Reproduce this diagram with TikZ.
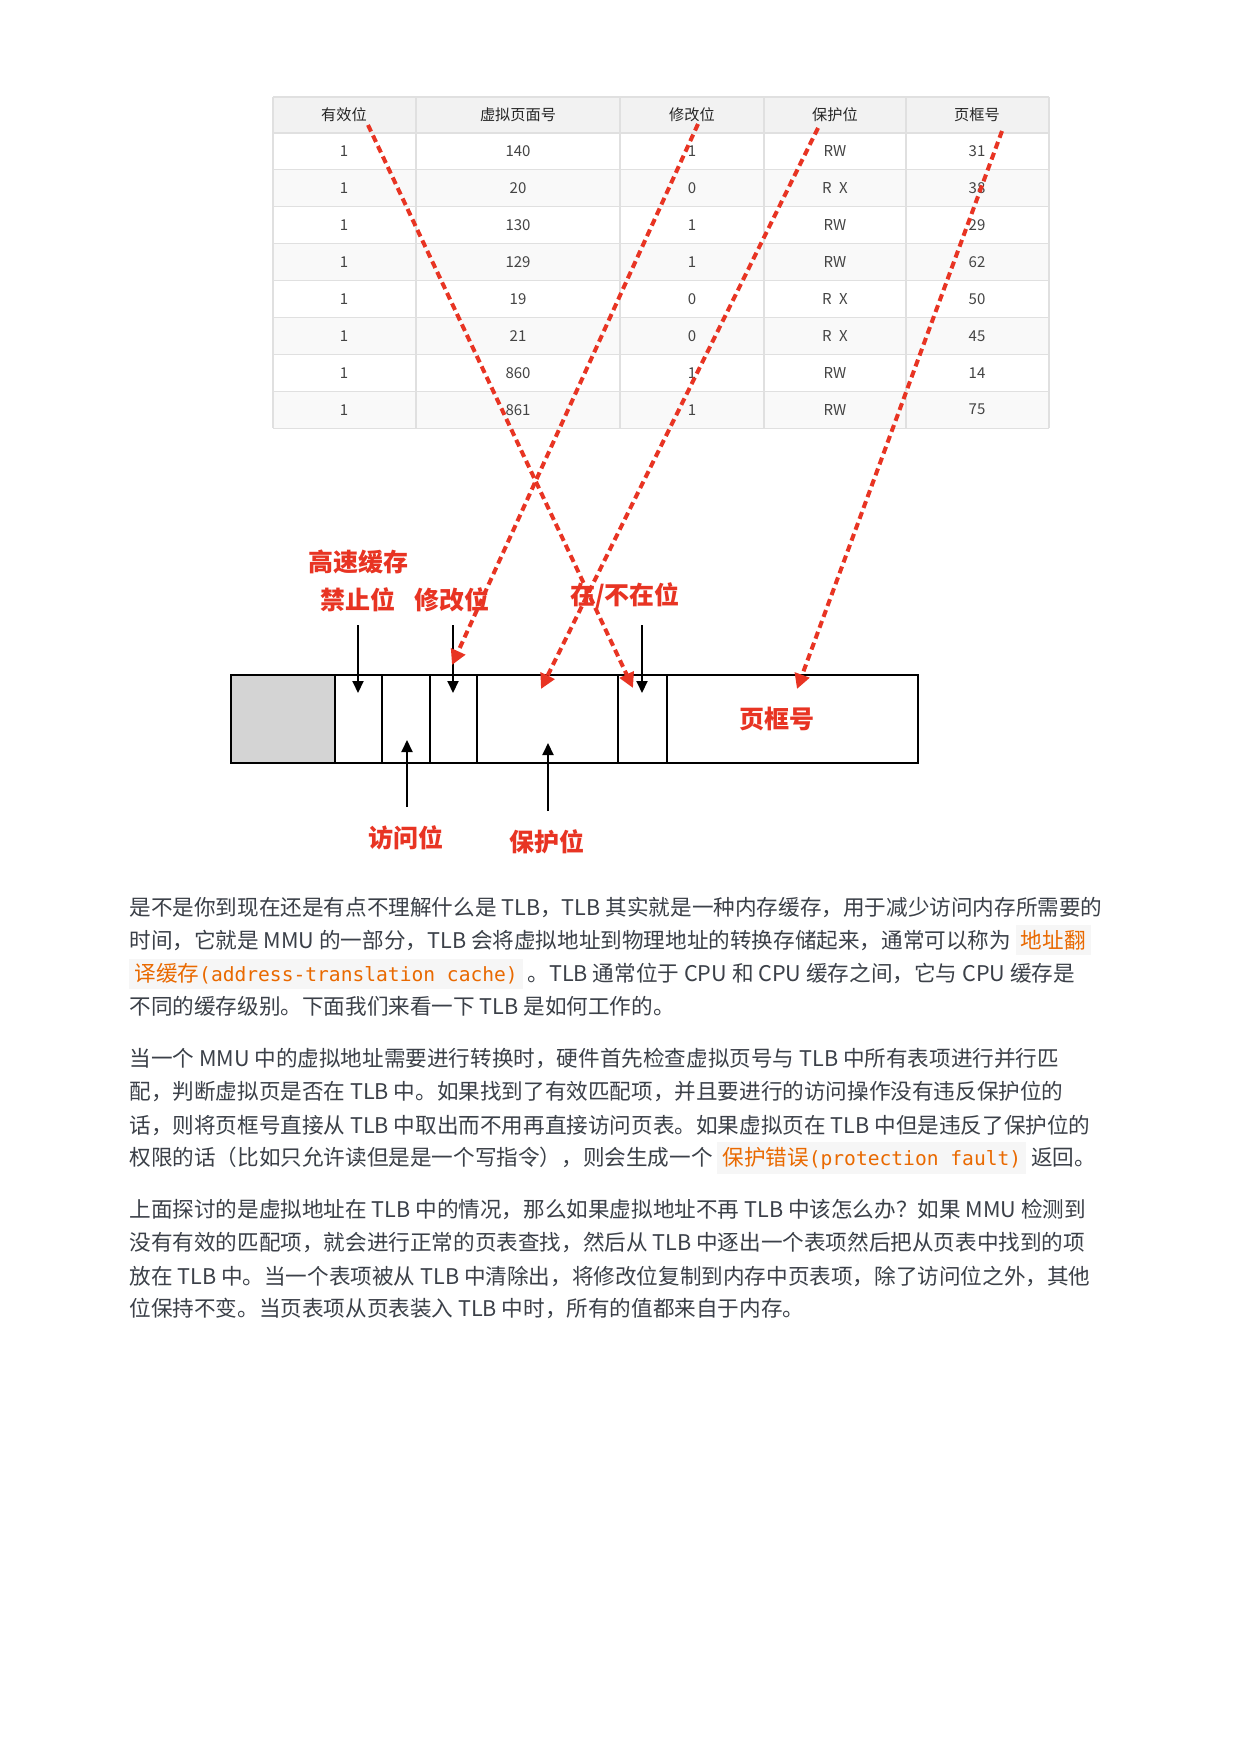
\documentclass[tikz,border=0pt]{standalone}
\usepackage{fontspec}
\usetikzlibrary{arrows.meta}
\newfontfamily\cjk{Noto Sans CJK SC}
\newfontfamily\codefont{DejaVu Sans Mono}

\definecolor{markred}{RGB}{232,52,35}
\definecolor{tabtext}{HTML}{444444}
\definecolor{tabgrid}{HTML}{E0E0E0}
\definecolor{tabhead}{HTML}{F2F2F2}
\definecolor{tabalt}{HTML}{F9F9F9}
\definecolor{bodytext}{HTML}{3B4048}
\definecolor{codeorange}{HTML}{E96900}
\definecolor{codebg}{HTML}{F6F6F6}
\definecolor{bitgray}{HTML}{D4D4D4}

% inline code: cjk part, mono part
\newcommand{\codebox}[2]{{\setlength{\fboxsep}{2.5pt}\colorbox{codebg}{\textcolor{codeorange}{#1{\codefont\fontsize{9.8}{12}\selectfont #2}}}}}

\tikzset{
  tabcell/.style={font=\cjk\fontsize{7.5}{9}\selectfont, text=tabtext},
  tabhd/.style={font=\cjk\fontsize{7.6}{9}\selectfont, text=black!85},
  redlbl/.style={font=\cjk\bfseries\fontsize{12.5}{15}\selectfont, text=markred},
  bodyline/.style={anchor=west, inner sep=0pt, font=\cjk\fontsize{10.8}{13}\selectfont, text=bodytext},
  redarrow/.style={markred, line width=2pt, dash pattern=on 3.6pt off 2.2pt, -{Triangle[length=7.5pt,width=7.5pt]}},
  blkarrow/.style={black, line width=1pt, -{Triangle[length=6pt,width=5.5pt]}},
}

\begin{document}
\begin{tikzpicture}[x=0.5pt,y=-0.5pt]
  \fill[white] (0,0) rectangle (1240,1754);
  \useasboundingbox (0,0) rectangle (1240,1754);

  % table of TLB entries
  \fill[tabhead] (273,97) rectangle (1049,133);
  \foreach \r in {2,4,6,8}
    \fill[tabalt] (273,{133+(\r-1)*36.9}) rectangle (1049,{133+\r*36.9});
  \foreach \x in {273,416,620,764,906,1049}
    \draw[tabgrid, line width=0.6pt] (\x,97) -- (\x,428);
  \foreach \r in {0,...,8}
    \draw[tabgrid, line width=0.6pt] (273,{133+\r*36.9}) -- (1049,{133+\r*36.9});
  \draw[tabgrid, line width=0.6pt] (273,97) -- (1049,97);

  \node[tabhd] (hvalid) at (344,115) {有效位};
  \node[tabhd] (hpage) at (518,115) {虚拟页面号};
  \node[tabhd] (hmod) at (692,115) {修改位};
  \node[tabhd] (hprot) at (835,115) {保护位};
  \node[tabhd] (hframe) at (977,115) {页框号};

  \foreach \v/\pg/\m/\pr/\fr [count=\i] in {1/140/1/RW/31, 1/20/0/R\enspace X/38,
      1/130/1/RW/29, 1/129/1/RW/62, 1/19/0/R\enspace X/50, 1/21/0/R\enspace X/45,
      1/860/1/RW/14, 1/861/1/RW/75}{
    \pgfmathsetmacro\yy{133+(\i-0.5)*36.9}
    \node[tabcell] (valid\i) at (344,\yy) {\v};
    \node[tabcell] (page\i) at (518,\yy) {\pg};
    \node[tabcell] (mod\i) at (692,\yy) {\m};
    \node[tabcell] (prot\i) at (835,\yy) {\pr};
    \node[tabcell] (frame\i) at (977,\yy) {\fr};
  }

  % page table entry bits
  \fill[bitgray] (231,675) rectangle (335,763);
  \draw[line width=0.8pt] (231,675) rectangle (918,763);
  \foreach \x in {335,382,430,477,618,667}
    \draw[line width=0.8pt] (\x,675) -- (\x,763);

  \node[redlbl] (lcache) at (358,562) {高速缓存};
  \node[redlbl] (lcd) at (358,600) {禁止位};
  \node[redlbl] (lmod) at (452,600) {修改位};
  \node[redlbl] (lpres) at (625,596) {在/不在位};
  \node[redlbl] (lframe) at (777,719) {页框号};
  \node[redlbl] (lref) at (406,838) {访问位};
  \node[redlbl] (lprot) at (547,842) {保护位};

  % black pointers
  \coordinate (cdtop) at (358,625);  \coordinate (cdtip) at (358,693);
  \coordinate (modtop) at (453,625); \coordinate (modtip) at (453,693);
  \coordinate (prtop) at (642,625);  \coordinate (prtip) at (642,693);
  \coordinate (refbot) at (407,807); \coordinate (reftip) at (407,740);
  \coordinate (protbot) at (548,811); \coordinate (prottip) at (548,743);
  \draw[blkarrow] (cdtop) -- (cdtip);
  \draw[blkarrow] (modtop) -- (modtip);
  \draw[blkarrow] (prtop) -- (prtip);
  \draw[blkarrow] (refbot) -- (reftip);
  \draw[blkarrow] (protbot) -- (prottip);

  % red dashed mapping from table columns
  \coordinate (s1) at (368,125);  \coordinate (e1) at (633,688);
  \coordinate (s2) at (698,124);  \coordinate (e2) at (452,665);
  \coordinate (s3) at (818,128);  \coordinate (e3) at (541,689);
  \coordinate (s4) at (1002,131); \coordinate (e4) at (797,689);
  \draw[redarrow] (s1) -- (e1);
  \draw[redarrow] (s2) -- (e2);
  \draw[redarrow] (s3) -- (e3);
  \draw[redarrow] (s4) -- (e4);

  % text below
  \node[bodyline] (p1a) at (129,907) {是不是你到现在还是有点不理解什么是 TLB，TLB 其实就是一种内存缓存，用于减少访问内存所需要的};
  \node[bodyline] (p1b) at (129,940) {时间，它就是 MMU 的一部分，TLB 会将虚拟地址到物理地址的转换存储起来，通常可以称为 \codebox{地址翻}{}};
  \node[bodyline] (p1c) at (129,974) {\codebox{译缓存}{(address-translation cache)} 。TLB 通常位于 CPU 和 CPU 缓存之间，它与 CPU 缓存是};
  \node[bodyline] (p1d) at (129,1006) {不同的缓存级别。下面我们来看一下 TLB 是如何工作的。};

  \node[bodyline] (p2a) at (129,1058) {当一个 MMU 中的虚拟地址需要进行转换时，硬件首先检查虚拟页号与 TLB 中所有表项进行并行匹};
  \node[bodyline] (p2b) at (129,1091) {配，判断虚拟页是否在 TLB 中。如果找到了有效匹配项，并且要进行的访问操作没有违反保护位的};
  \node[bodyline] (p2c) at (129,1125) {话，则将页框号直接从 TLB 中取出而不用再直接访问页表。如果虚拟页在 TLB 中但是违反了保护位的};
  \node[bodyline] (p2d) at (129,1158) {权限的话（比如只允许读但是是一个写指令），则会生成一个 \codebox{保护错误}{(protection fault)} 返回。};

  \node[bodyline] (p3a) at (129,1209) {上面探讨的是虚拟地址在 TLB 中的情况，那么如果虚拟地址不再 TLB 中该怎么办？如果 MMU 检测到};
  \node[bodyline] (p3b) at (129,1242) {没有有效的匹配项，就会进行正常的页表查找，然后从 TLB 中逐出一个表项然后把从页表中找到的项};
  \node[bodyline] (p3c) at (129,1276) {放在 TLB 中。当一个表项被从 TLB 中清除出，将修改位复制到内存中页表项，除了访问位之外，其他};
  \node[bodyline] (p3d) at (129,1308) {位保持不变。当页表项从页表装入 TLB 中时，所有的值都来自于内存。};
\end{tikzpicture}
\end{document}
